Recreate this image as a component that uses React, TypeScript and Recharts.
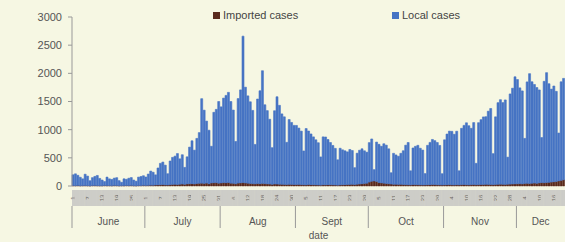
import { BarChart, Bar, XAxis, YAxis } from 'recharts'

const months = ['June', 'July', 'Aug', 'Sept', 'Oct', 'Nov', 'Dec']

const juneLocal = [190, 210, 180, 150, 120, 200, 170, 90, 140, 160, 180, 130, 100, 70, 150, 120, 110, 130, 140, 90, 60, 120, 110, 130, 140, 100, 80, 150, 160, 170]
const julyLocal = [150, 200, 250, 230, 180, 300, 380, 400, 350, 200, 420, 480, 500, 550, 450, 520, 300, 480, 650, 760, 600, 800, 900, 1500, 1300, 1100, 950, 650, 1250, 1300, 1450]
const augLocal = [1350, 1500, 1550, 1600, 1450, 1300, 750, 1500, 1650, 2600, 1700, 1550, 1450, 1300, 700, 1500, 1650, 2000, 1400, 1300, 1150, 650, 1300, 1550, 1400, 1250, 1200, 750, 1150, 1100, 1050]
const septLocal = [1050, 1000, 950, 600, 1000, 950, 900, 850, 800, 750, 500, 850, 850, 800, 750, 700, 650, 450, 650, 620, 600, 580, 620, 600, 300, 550, 600, 620, 580, 550]
const octLocal = [700, 750, 200, 700, 680, 650, 700, 680, 620, 200, 550, 520, 500, 550, 600, 700, 750, 250, 650, 680, 700, 650, 620, 200, 700, 750, 800, 780, 750, 700, 200]
const novLocal = [800, 900, 950, 950, 900, 950, 250, 1000, 1050, 1100, 1050, 1000, 1100, 380, 1100, 1150, 1200, 1200, 1300, 1350, 550, 1200, 1450, 1500, 1450, 1500, 480, 1600, 1700, 1900]
const decLocal = [1850, 1700, 1650, 800, 1800, 1950, 1800, 1750, 1700, 1650, 800, 1800, 1950, 1750, 1650, 1700, 1600, 850, 1750, 1800]

const juneImported = [8, 6, 10, 5, 7, 9, 6, 4, 8, 10, 7, 5, 6, 9, 8, 7, 6, 10, 8, 5, 6, 7, 9, 8, 10, 6, 5, 8, 9, 12]
const julyImported = [10, 12, 15, 14, 18, 20, 22, 25, 20, 18, 24, 28, 30, 26, 32, 35, 30, 38, 40, 42, 36, 45, 48, 50, 46, 52, 40, 55, 58, 60, 50]
const augImported = [55, 60, 58, 62, 50, 48, 40, 52, 56, 60, 54, 50, 45, 42, 38, 44, 40, 46, 42, 38, 35, 30, 36, 34, 32, 30, 28, 25, 30, 28, 26]
const septImported = [25, 28, 24, 22, 20, 26, 24, 22, 20, 18, 16, 22, 20, 24, 22, 20, 18, 15, 20, 22, 24, 26, 28, 30, 25, 32, 35, 40, 45, 50]
const octImported = [70, 85, 90, 80, 60, 55, 50, 45, 40, 35, 30, 32, 28, 30, 26, 24, 22, 20, 25, 24, 22, 20, 18, 20, 22, 24, 26, 25, 22, 20, 18]
const novImported = [20, 22, 24, 20, 18, 22, 20, 24, 26, 22, 20, 24, 26, 22, 24, 28, 26, 30, 28, 26, 24, 28, 30, 32, 30, 28, 32, 34, 36, 38]
const decImported = [40, 42, 38, 45, 48, 44, 50, 52, 48, 55, 60, 58, 62, 65, 70, 75, 80, 90, 100, 110]

const yTicks = [0, 500, 1000, 1500, 2000, 2500, 3000]

const localByMonth = [juneLocal, julyLocal, augLocal, septLocal, octLocal, novLocal, decLocal]
const importedByMonth = [juneImported, julyImported, augImported, septImported, octImported, novImported, decImported]

const data = months.flatMap((m, mi) =>
  localByMonth[mi].map((v, di) => ({
    key: `${m}-${di + 1}`,
    month: m,
    day: di + 1,
    local: v,
    imported: importedByMonth[mi][di],
  }))
)

// first day index of each month -> month name + length
const monthStarts: Record<number, { name: string; days: number }> = {}
{
  let idx = 0
  months.forEach((m, mi) => {
    monthStarts[idx] = { name: m, days: localByMonth[mi].length }
    idx += localByMonth[mi].length
  })
}

const W = 565
const H = 242
const LEFT = 72
const BAND = (W - LEFT) / data.length
const FONT = '"Liberation Sans", Arial, sans-serif'
const BG = '#f6f7e3'
const LOCAL = '#4674c4'
const IMPORTED = '#5a2a1c'

function DayTick(props: any) {
  const { x, y, payload } = props
  const i = payload?.index ?? props.index
  const row = data[i]
  return (
    <g>
      <rect x={x - BAND / 2} y={y + 4} width={BAND + 0.6} height={16} fill="#cdcdc8" />
      {i % 6 === 0 && row && (
        <text
          transform={`translate(${x + 2}, ${y + 12}) rotate(-90)`}
          textAnchor="middle"
          fontSize={6}
          fill="#666"
          fontFamily={FONT}
        >
          {row.day}
        </text>
      )}
    </g>
  )
}

function MonthTick(props: any) {
  const { x, y, payload } = props
  const i = payload?.index ?? props.index
  const start = monthStarts[i]
  if (!start) return <g />
  const x0 = x - BAND / 2
  return (
    <g>
      <line x1={x0} y1={y} x2={x0} y2={y + 22} stroke="#999" strokeWidth={1} />
      <text x={x0 + (start.days * BAND) / 2} y={y + 19} textAnchor="middle" fontSize={10} fill="#555" fontFamily={FONT}>
        {start.name}
      </text>
    </g>
  )
}

export default function App() {
  return (
    <div style={{ position: 'fixed', left: 0, top: 0, width: W, height: H, background: BG, fontFamily: FONT }}>
      <BarChart
        width={W}
        height={H}
        data={data}
        margin={{ top: 17, right: 0, bottom: 0, left: 0 }}
        barCategoryGap={0}
        barGap={0}
      >
        <XAxis
          xAxisId="day"
          dataKey="key"
          interval={0}
          height={20}
          tickSize={0}
          tickMargin={0}
          axisLine={false}
          tickLine={false}
          tick={<DayTick />}
        />
        <XAxis
          xAxisId="month"
          dataKey="key"
          interval={0}
          height={36}
          tickSize={0}
          tickMargin={0}
          axisLine={false}
          tickLine={false}
          tick={<MonthTick />}
          label={{ value: 'date', position: 'insideBottom', offset: 3, fontSize: 10, fill: '#555', fontFamily: FONT }}
        />
        <YAxis
          width={LEFT}
          domain={[0, 3000]}
          ticks={yTicks}
          interval={0}
          tickSize={4}
          tickMargin={6}
          axisLine={{ stroke: '#999' }}
          tickLine={{ stroke: '#999' }}
          tick={{ fontSize: 11, fill: '#555', fontFamily: FONT }}
        />
        <Bar xAxisId="day" dataKey="imported" stackId="a" fill={IMPORTED} stroke={IMPORTED} strokeWidth={0.5} isAnimationActive={false} />
        <Bar xAxisId="day" dataKey="local" stackId="a" fill={LOCAL} stroke={LOCAL} strokeWidth={0.6} isAnimationActive={false} />
      </BarChart>
      <div style={{ position: 'absolute', top: 9, left: 213, fontSize: 11, color: '#444', display: 'flex', alignItems: 'center' }}>
        <span style={{ width: 7, height: 7, background: IMPORTED, marginRight: 3 }} />
        Imported cases
      </div>
      <div style={{ position: 'absolute', top: 9, left: 392, fontSize: 11, color: '#444', display: 'flex', alignItems: 'center' }}>
        <span style={{ width: 7, height: 7, background: LOCAL, marginRight: 3 }} />
        Local cases
      </div>
    </div>
  )
}
